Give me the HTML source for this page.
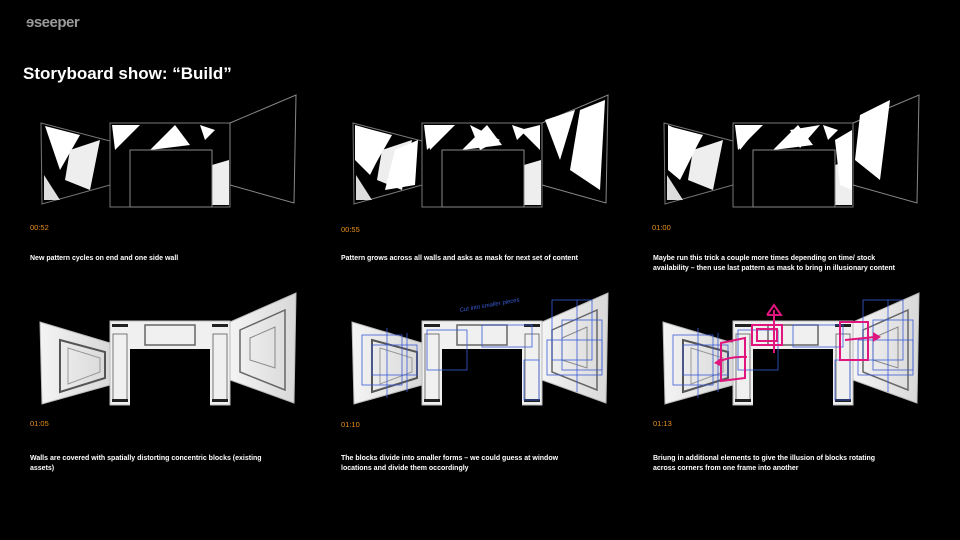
<!DOCTYPE html>
<html><head><meta charset="utf-8"><style>
html,body{margin:0;padding:0;background:#000;width:960px;height:540px;overflow:hidden}
svg{display:block}
text{font-family:"Liberation Sans",sans-serif}
</style></head><body>
<svg width="960" height="540" viewBox="0 0 960 540" xmlns="http://www.w3.org/2000/svg">
<defs>
<linearGradient id="wg" x1="0" x2="1"><stop offset="0" stop-color="#f4f4f4"/><stop offset="1" stop-color="#d8d8d8"/></linearGradient>
<g id="top">
  <polygon points="41,123 110,141 110,185 42,204" fill="#000" stroke="#777" stroke-width="1"/>
  <polygon points="110,123 230,123 230,207 110,207" fill="#000" stroke="#777"/>
  <polygon points="230,123 296,95 294,203 230,185" fill="#000" stroke="#888"/>
  <polygon points="45,126 80,135 60,170" fill="#fff"/>
  <polygon points="70,150 100,140 90,190 65,180" fill="#eee"/>
  <polygon points="44,175 60,200 44,200" fill="#ddd"/>
  <polygon points="112,125 140,125 115,150" fill="#fff"/>
  <polygon points="150,150 175,125 190,145" fill="#fff"/>
  <polygon points="200,125 215,130 205,140" fill="#fff"/>
  <polygon points="212,165 229,160 229,205 212,205" fill="#eee"/>
  <rect x="130" y="150" width="82" height="57" fill="#000" stroke="#888"/>
</g>
<g id="bot">
  <polygon points="40,322 110,343 110,385 42,404" fill="url(#wg)" stroke="#bbb"/>
  <polygon points="60,340 105,352 105,378 60,392" fill="none" stroke="#555" stroke-width="2"/>
  <polygon points="68,348 100,358 100,372 68,384" fill="none" stroke="#999"/>
  <rect x="110" y="321" width="120" height="84" fill="#f0f0f0" stroke="#bbb"/>
  <rect x="130" y="349" width="80" height="57" fill="#000"/>
  <rect x="145" y="325" width="50" height="20" fill="none" stroke="#666" stroke-width="1.5"/>
  <rect x="113" y="334" width="14" height="66" fill="none" stroke="#777"/>
  <rect x="213" y="334" width="14" height="66" fill="none" stroke="#777"/>
  <rect x="112" y="324" width="16" height="3" fill="#222"/>
  <rect x="212" y="324" width="16" height="3" fill="#222"/>
  <rect x="112" y="399" width="16" height="3" fill="#222"/>
  <rect x="212" y="399" width="16" height="3" fill="#222"/>
  <polygon points="230,322 296,293 294,403 230,380" fill="url(#wg)" stroke="#bbb"/>
  <polygon points="240,330 285,310 285,390 240,372" fill="none" stroke="#666" stroke-width="1.5"/>
  <polygon points="250,338 275,327 275,368 250,360" fill="none" stroke="#888"/>
</g>
<g id="blue" fill="none" stroke="#3a5bd6" stroke-width="0.8">
  <rect x="50" y="335" width="40" height="50"/><rect x="60" y="345" width="45" height="30"/>
  <rect x="115" y="330" width="40" height="40"/><rect x="170" y="325" width="50" height="22"/>
  <rect x="240" y="300" width="40" height="60"/><rect x="250" y="320" width="40" height="50"/>
  <rect x="235" y="340" width="55" height="35"/><rect x="212" y="360" width="15" height="40"/>
  <line x1="75" y1="328" x2="75" y2="398"/><line x1="95" y1="333" x2="95" y2="392"/>
  <line x1="265" y1="300" x2="265" y2="392"/>
</g>
</defs>

<text x="26" y="27" font-size="15" font-weight="bold" fill="#9a9a9a" letter-spacing="-0.5">ɘseeper</text>
<text x="23" y="79" font-size="17" font-weight="bold" fill="#fff">Storyboard show: “Build”</text>

<use href="#top"/>
<use href="#top" x="312"/>
<use href="#top" x="623"/>
<g fill="#fff">
<polygon points="355,125 390,135 370,175 355,160"/><polygon points="395,150 418,140 415,185 385,190"/>
<polygon points="425,125 455,125 430,150"/><polygon points="470,125 500,140 480,150"/>
<polygon points="520,130 540,125 540,150"/><polygon points="545,120 575,110 560,160"/>
<polygon points="580,110 605,100 600,190 570,170"/>
<polygon points="668,125 700,140 680,180 668,170"/><polygon points="735,125 760,125 740,150"/>
<polygon points="790,130 820,125 800,148"/><polygon points="860,115 890,100 880,180 855,160"/>
<polygon points="835,140 852,130 852,190 840,185"/>
</g>

<use href="#bot"/>
<use href="#bot" x="312"/>
<use href="#blue" x="312"/>
<use href="#bot" x="623"/>
<use href="#blue" x="623"/>
<text x="460" y="312" font-size="6" fill="#3a5bd6" font-style="italic" transform="rotate(-10 460 312)">Cut into smaller pieces</text>
<g fill="none" stroke="#e0157d" stroke-width="2">
  <rect x="752" y="325" width="30" height="20"/><rect x="757" y="329" width="20" height="12"/>
  <polygon points="721,343 745,338 745,378 721,381"/>
  <rect x="840" y="322" width="28" height="38"/>
  <line x1="774" y1="353" x2="774" y2="310"/>
  <polyline points="767,315 774,305 781,315 767,315"/>
  <path d="M747,357 Q730,356 718,362"/>
  <line x1="845" y1="340" x2="875" y2="337"/>
</g>
<polygon points="714,363 722,357 722,367" fill="#e0157d"/>
<polygon points="881,337 873,332 873,342" fill="#e0157d"/>

<g font-size="7.5" fill="#e8901c">
<text x="30" y="230">00:52</text><text x="341" y="232">00:55</text><text x="652" y="230">01:00</text>
<text x="30" y="426">01:05</text><text x="341" y="427">01:10</text><text x="653" y="426">01:13</text>
</g>
<g font-size="7" font-weight="bold" fill="#fff">
<text x="30" y="260">New pattern cycles on end and one side wall</text>
<text x="341" y="260">Pattern grows across all walls and asks as mask for next set of content</text>
<text x="653" y="260">Maybe run this trick a couple more times depending on time/ stock</text>
<text x="653" y="270">availability – then use last pattern as mask to bring in illusionary content</text>
<text x="30" y="460">Walls are covered with spatially distorting concentric blocks (existing</text>
<text x="30" y="470">assets)</text>
<text x="341" y="460">The blocks divide into smaller forms – we could guess at window</text>
<text x="341" y="470">locations and divide them  occordingly</text>
<text x="653" y="460">Briung in additional elements to give the illusion of blocks rotating</text>
<text x="653" y="470">across corners from one frame into another</text>
</g>
</svg>
</body></html>
